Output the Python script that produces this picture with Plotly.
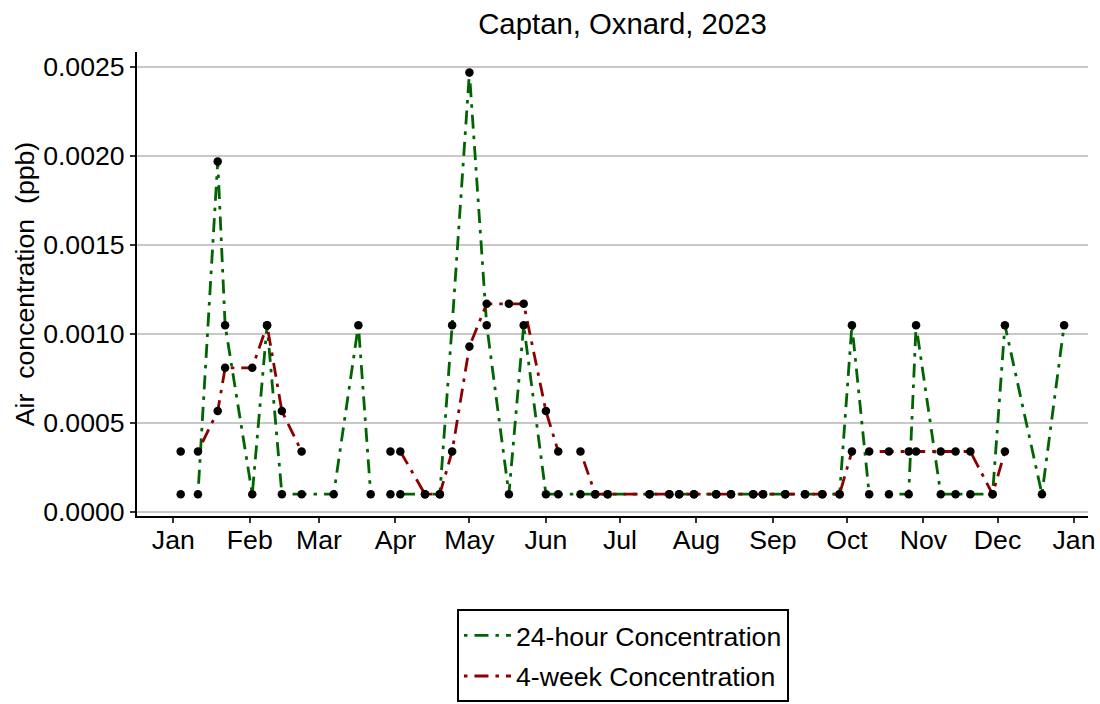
import plotly.graph_objects as go

# ---------------- data ----------------
sample_dates = [
    "2023-01-04", "2023-01-11", "2023-01-19", "2023-01-22", "2023-02-02",
    "2023-02-08", "2023-02-14", "2023-02-22", "2023-03-07", "2023-03-17",
    "2023-03-22", "2023-03-30", "2023-04-03", "2023-04-13", "2023-04-19",
    "2023-04-24", "2023-05-01", "2023-05-08", "2023-05-17", "2023-05-23",
    "2023-06-01", "2023-06-06", "2023-06-15", "2023-06-21", "2023-06-26",
    "2023-07-13", "2023-07-21", "2023-07-25", "2023-07-31", "2023-08-09",
    "2023-08-15", "2023-08-24", "2023-08-28", "2023-09-06", "2023-09-14",
    "2023-09-21", "2023-09-28", "2023-10-03", "2023-10-10", "2023-10-18",
    "2023-10-26", "2023-10-29", "2023-11-08", "2023-11-14", "2023-11-20",
    "2023-11-29", "2023-12-04", "2023-12-19", "2023-12-28",
]

conc_24h = [
    0.0001, 0.0001, 0.00197, 0.00105, 0.0001,
    0.00105, 0.0001, 0.0001, 0.0001, 0.00105,
    0.0001, 0.0001, 0.0001, 0.0001, 0.0001,
    0.00105, 0.00247, 0.00105, 0.0001, 0.00105,
    0.0001, 0.0001, 0.0001, 0.0001, 0.0001,
    0.0001, 0.0001, 0.0001, 0.0001, 0.0001,
    0.0001, 0.0001, 0.0001, 0.0001, 0.0001,
    0.0001, 0.0001, 0.00105, 0.0001, 0.0001,
    0.0001, 0.00105, 0.0001, 0.0001, 0.0001,
    0.0001, 0.00105, 0.0001, 0.00105,
]

conc_4wk = [
    0.00034, 0.00034, 0.000567, 0.00081, 0.00081,
    0.00105, 0.000567, 0.00034, None, None,
    None, 0.00034, 0.00034, 0.0001, 0.0001,
    0.00034, 0.00093, 0.00117, 0.00117, 0.00117,
    0.000567, 0.00034, 0.00034, 0.0001, 0.0001,
    0.0001, 0.0001, 0.0001, 0.0001, 0.0001,
    0.0001, 0.0001, 0.0001, 0.0001, 0.0001,
    0.0001, 0.0001, 0.00034, 0.00034, 0.00034,
    0.00034, 0.00034, 0.00034, 0.00034, 0.00034,
    0.0001, 0.00034, None, None,
]

# dates after which the plotted line is interrupted (no connecting segment)
breaks_24h = ["2023-01-04", "2023-03-22", "2023-10-10"]
breaks_4wk = ["2023-01-04", "2023-02-22", "2023-06-06", "2023-10-03"]

series_names = ["24-hour Concentration", "4-week Concentration"]
series_colors = ["#006400", "#8B0000"]

month_ticks = ["2023-%02d-01" % m for m in range(1, 13)] + ["2024-01-01"]
month_labels = ["Jan", "Feb", "Mar", "Apr", "May", "Jun", "Jul", "Aug",
                "Sep", "Oct", "Nov", "Dec", "Jan"]
y_ticks = [0.0, 0.0005, 0.0010, 0.0015, 0.0020, 0.0025]

FONT = "Liberation Sans, Arial, sans-serif"
FIG_W, FIG_H = 1100, 704


def line_xy(dates, values, breaks):
    xs, ys = [], []
    for d, v in zip(dates, values):
        if v is None:
            continue
        xs.append(d)
        ys.append(v)
        if d in breaks:
            xs.append(None)
            ys.append(None)
    return xs, ys


fig = go.Figure()

dash_pattern = "3.5px,7px,14px,7px"
for name, vals, brk, col in zip(series_names, [conc_24h, conc_4wk],
                                [breaks_24h, breaks_4wk], series_colors):
    lx, ly = line_xy(sample_dates, vals, brk)
    fig.add_trace(go.Scatter(
        x=lx, y=ly, mode="lines", name=name, legendgroup=name,
        line=dict(color=col, width=2.8, dash=dash_pattern),
        connectgaps=False, hoverinfo="skip",
    ))

for vals in [conc_24h, conc_4wk]:
    fig.add_trace(go.Scatter(
        x=sample_dates, y=vals, mode="markers", showlegend=False,
        marker=dict(color="black", size=8.5, line=dict(width=0)),
    ))

fig.update_layout(
    width=FIG_W, height=FIG_H,
    paper_bgcolor="white", plot_bgcolor="white",
    margin=dict(l=137, r=12, t=52, b=188, autoexpand=False),
    font=dict(family=FONT, size=26.67, color="black"),
    title=dict(text="Captan, Oxnard, 2023", x=0.5105, xref="paper",
               xanchor="center", y=1 - 24 / FIG_H, yref="container",
               yanchor="middle", font=dict(size=29.33, color="black")),
    showlegend=True,
    legend=dict(
        x=0.511, xref="paper", xanchor="center",
        y=-0.2015, yref="paper", yanchor="top",
        orientation="v", bgcolor="white",
        bordercolor="black", borderwidth=2,
        font=dict(size=26.67, color="black"),
        itemwidth=47, traceorder="grouped", tracegroupgap=3,
        entrywidth=300, entrywidthmode="pixels",
    ),
    xaxis=dict(
        type="date",
        range=["2022-12-17 07:00", "2024-01-06 16:00"],
        tickmode="array", tickvals=month_ticks, ticktext=month_labels,
        showgrid=False, zeroline=False,
        showline=True, linecolor="black", linewidth=2,
        ticks="outside", ticklen=5, tickwidth=1.5, tickcolor="#333333",
        tickfont=dict(size=26.67, color="black"),
        ticklabelstandoff=-6,
        automargin=False,
    ),
    yaxis=dict(
        range=[-0.0000225, 0.002585],
        tickmode="array", tickvals=y_ticks, tickformat=".4f",
        showgrid=True, gridcolor="#C8C8C8", gridwidth=1.5,
        zeroline=False,
        showline=True, linecolor="black", linewidth=2,
        ticks="outside", ticklen=5, tickwidth=1.5, tickcolor="#333333",
        tickfont=dict(size=26.67, color="black"),
        title=dict(text="Air  concentration  (ppb)", standoff=1,
                   font=dict(size=26.67, color="black")),
        automargin=False,
    ),
)

fig.write_html(
    "out.html",
    config={"displayModeBar": False},
    post_script="document.body.style.margin='0';"
                "document.body.style.overflow='hidden';",
)
